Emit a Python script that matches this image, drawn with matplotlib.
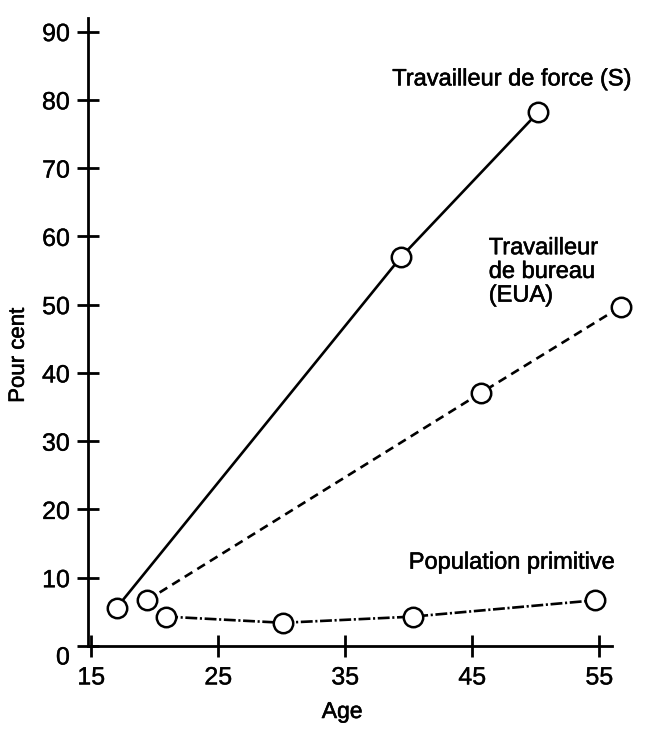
import matplotlib
matplotlib.use("Agg")
import matplotlib.pyplot as plt
import matplotlib.transforms as mtransforms
import matplotlib.patheffects as pe

# data (age, per cent)
age_force = [17.0, 39.4, 50.2]
pct_force = [5.6, 57.0, 78.2]

age_bureau = [19.4, 45.7, 56.7]
pct_bureau = [6.7, 37.1, 49.7]

age_prim = [20.9, 30.1, 40.3, 54.7]
pct_prim = [4.3, 3.4, 4.3, 6.7]

x_ticks = [15, 25, 35, 45, 55]
y_ticks = [0, 10, 20, 30, 40, 50, 60, 70, 80, 90]

plt.rcParams['font.family'] = ['Liberation Sans', 'DejaVu Sans']

# scanned print looks a bit heavier than plain regular
heavy = [pe.withStroke(linewidth=0.4, foreground='black')]
light = [pe.withStroke(linewidth=0.25, foreground='black')]

fig = plt.figure(figsize=(6.53, 7.42), dpi=100)
ax = fig.add_axes([0.1348, 0.1294, 0.8024, 0.8464])

mk = dict(marker='o', markersize=14, markerfacecolor='white',
          markeredgecolor='black', markeredgewidth=1.8, color='black',
          lw=1.9, clip_on=False, zorder=3)

ax.plot(age_force, pct_force, linestyle='-', **mk)
ax.plot(age_bureau, pct_bureau, linestyle=(0, (3.4, 2.2)), **mk)
ax.plot(age_prim, pct_prim, linestyle=(0, (4.5, 1.0, 0.8, 1.0)), **mk)

ax.set_xlim(14.75, 56.0)
ax.set_ylim(0, 92)
ax.set_xticks(x_ticks)
ax.set_yticks(y_ticks)

for s in ['top', 'right']:
    ax.spines[s].set_visible(False)
for s in ['left', 'bottom']:
    ax.spines[s].set_linewidth(2.0)

ax.tick_params(direction='inout', length=16, width=2.0, labelsize=18)
ax.tick_params(axis='y', pad=5)
ax.tick_params(axis='x', pad=6)

for lab in ax.get_xticklabels() + ax.get_yticklabels():
    lab.set_path_effects(light)

# the "0" sits a bit lower in the original
lab0 = ax.get_yticklabels()[0]
lab0.set_transform(lab0.get_transform() + mtransforms.ScaledTranslation(0, -6.5 / 72, fig.dpi_scale_trans))

ax.set_ylabel('Pour cent', fontsize=16, path_effects=heavy)
ax.yaxis.set_label_coords(-0.113, 0.463)
ax.set_xlabel('Age', fontsize=16.5, path_effects=heavy)
ax.xaxis.set_label_coords(0.485, -0.086)

ax.text(38.7, 83, 'Travailleur de force (S)', fontsize=17, ha='left',
        va='center', path_effects=heavy)
ax.text(46.3, 54.8, 'Travailleur\nde bureau\n(EUA)', fontsize=17, ha='left',
        va='center', linespacing=1.1, path_effects=heavy)
ax.text(40.0, 12.2, 'Population primitive', fontsize=17, ha='left',
        va='center', path_effects=heavy)

fig.savefig('out.png', dpi=100)
